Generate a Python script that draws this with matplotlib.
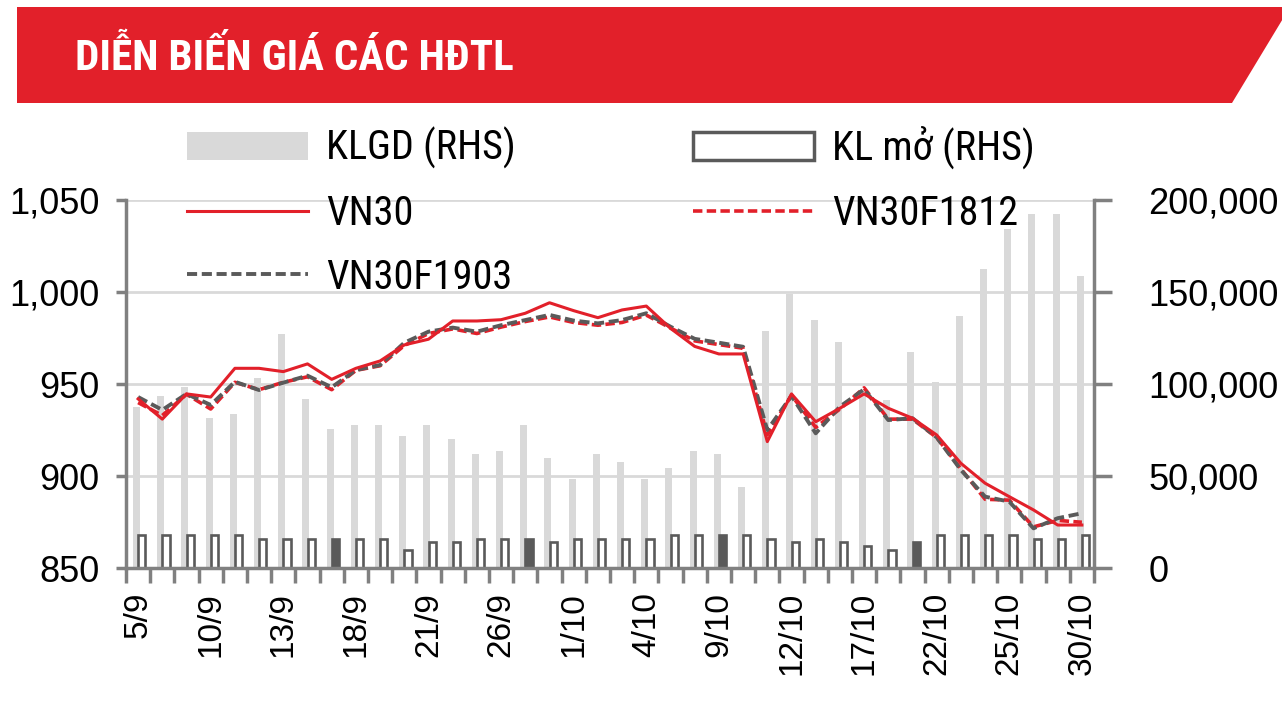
import matplotlib
matplotlib.use('Agg')
import matplotlib.pyplot as plt
from matplotlib import font_manager as fm
from matplotlib.patches import Polygon, Patch
from matplotlib.lines import Line2D
from matplotlib.ticker import FuncFormatter
import numpy as np

# phiên giao dịch 5/9 - 30/10
dates = ['5/9', '6/9', '7/9', '10/9', '11/9', '12/9', '13/9', '14/9', '17/9', '18/9',
         '19/9', '20/9', '21/9', '24/9', '25/9', '26/9', '27/9', '28/9', '1/10', '2/10',
         '3/10', '4/10', '5/10', '8/10', '9/10', '10/10', '11/10', '12/10', '15/10', '16/10',
         '17/10', '18/10', '19/10', '22/10', '23/10', '24/10', '25/10', '26/10', '29/10', '30/10']

vn30 = [942, 931, 944.7, 943, 958.6, 958.6, 956.8, 961, 952.6, 958.6,
        962.6, 971.3, 974.4, 984.3, 984.3, 985, 988.5, 994.2, 989.9, 986.1,
        990.3, 992.4, 980.3, 970.5, 966.4, 966.4, 918.8, 944.7, 929.6, 936.9,
        944.7, 936.9, 931.5, 922.4, 907, 896.2, 888.9, 881.7, 873.5, 873.5]

vn30f1812 = [940, 933, 944.5, 936.5, 951, 947, 951, 954, 947, 957.5,
             960, 971, 977.5, 980, 977.5, 981, 984, 986.5, 983.5, 982,
             983.5, 987.5, 980.5, 973.5, 971.5, 969.5, 922.5, 944, 926.5, 936.5,
             948, 931, 931, 921, 904, 887.5, 887, 872.5, 876, 875]

vn30f1903 = [943, 936, 944.7, 938.7, 951.3, 946.8, 950.8, 954.6, 948.3, 957.7,
             960.4, 972.5, 978.5, 980.7, 978.5, 982, 984.8, 987.6, 984.5, 983,
             984.8, 988.5, 981.2, 974.6, 972.5, 970.3, 925.1, 943.6, 923.3, 937.8,
             947.2, 930.5, 931.5, 921.1, 903.4, 888.9, 886.2, 871.7, 877.2, 879.9]

klgd = [87750, 93500, 98500, 81800, 83800, 103500, 127200, 91800, 75600, 77800,
        77800, 71800, 77800, 70000, 62000, 63900, 77800, 60100, 48300, 61900,
        57900, 48300, 54300, 63900, 61900, 44300, 129000, 148800, 134800, 123000,
        97000, 91400, 117300, 101300, 137000, 162700, 184400, 192400, 192400, 158700]

kl_mo = [18100, 18100, 18100, 18100, 18100, 15900, 15900, 15900, 15900, 15900,
         15900, 9900, 14100, 14100, 15900, 15900, 15900, 14100, 15900, 15900,
         15900, 15900, 18100, 18100, 18100, 18100, 15900, 14100, 15900, 14100,
         12100, 9900, 14100, 18100, 18100, 18100, 18100, 15900, 15900, 18100]

RED = '#E2202A'
DARK = '#5A5A5A'
LIGHT = '#D9D9D9'
AXIS = '#808080'
SANS = ['Liberation Sans', 'DejaVu Sans']

# tìm font hẹp có sẵn
installed = {f.name for f in fm.fontManager.ttflist}
narrow_name = None
for cand in ['Liberation Sans Narrow', 'Roboto Condensed', 'Open Sans Condensed',
             'DejaVu Sans Condensed', 'Noto Sans Condensed']:
    if cand in installed:
        narrow_name = cand
        break
if narrow_name is None:
    NARROW = ['DejaVu Sans']
    STRETCH = 'condensed'
else:
    NARROW = [narrow_name, 'DejaVu Sans']
    STRETCH = 'normal'

W, H = 1282, 720


def fx(px):
    return px / W


def fy(py):
    return 1 - py / H


fig = plt.figure(figsize=(W / 100, H / 100), dpi=100)

# dải tiêu đề đỏ
banner = Polygon([(fx(17), fy(7)), (fx(1290), fy(7)), (fx(1232), fy(103)), (fx(17), fy(103))],
                 closed=True, transform=fig.transFigure, facecolor=RED, edgecolor='none')
fig.patches.append(banner)
fig.text(fx(75), fy(58), 'DIỄN BIẾN GIÁ CÁC HĐTL', color='white', fontsize=31,
         fontweight='bold', family=NARROW, fontstretch=STRETCH, va='center', ha='left')

ax = fig.add_axes([fx(126), fy(568.3), fx(1094) - fx(126), (568.3 - 200) / H])
ax2 = ax.twinx()
ax.set_zorder(ax2.get_zorder() + 1)
ax.patch.set_visible(False)

x = np.arange(len(dates))

# cột khối lượng (trục phải)
ax2.set_axisbelow(True)
ax2.yaxis.grid(True, color=LIGHT, linewidth=2)
ax2.bar(x - 0.066, klgd, width=0.29, color=LIGHT, zorder=2)
faces = ['white'] * len(x)
for i in range(8, len(x), 8):
    faces[i] = DARK
ax2.bar(x + 0.15, kl_mo, width=0.3, facecolor=faces, edgecolor=DARK, linewidth=1.9, zorder=3)

# đường giá (trục trái)
dash = (0, (2.6, 1.2))
ax.plot(x, vn30f1812, color=RED, linewidth=2.6, linestyle=dash, zorder=3)
ax.plot(x, vn30f1903, color=DARK, linewidth=2.8, linestyle=dash, zorder=4)
ax.plot(x, vn30, color=RED, linewidth=2.2, zorder=5)

ax.set_xlim(-0.5, len(x) - 0.5)
ax.set_ylim(850, 1050)
ax2.set_ylim(0, 200000)
ax.set_yticks([850, 900, 950, 1000, 1050])
ax2.set_yticks([0, 50000, 100000, 150000, 200000])
fmt = FuncFormatter(lambda v, p: '{:,.0f}'.format(v))
ax.yaxis.set_major_formatter(fmt)
ax2.yaxis.set_major_formatter(fmt)

ax.set_xticks(x[::3])
ax.set_xticklabels(dates[::3], rotation=90, family=SANS, fontsize=24)
ax.set_xticks(np.arange(-0.5, len(x), 1), minor=True)
ax.tick_params(axis='x', which='major', length=0, pad=17)
ax.tick_params(axis='x', which='minor', length=11, width=2.5, color=AXIS)
ax.tick_params(axis='y', length=7, width=2.5, color=AXIS, pad=12)
ax2.tick_params(axis='y', length=13, width=2.5, color=AXIS, pad=26)
for lab in ax.get_yticklabels() + ax2.get_yticklabels():
    lab.set_family(SANS)
    lab.set_fontsize(26)

for s in ['top', 'right']:
    ax.spines[s].set_visible(False)
for s in ['top', 'left', 'bottom']:
    ax2.spines[s].set_visible(False)
for sp in [ax.spines['left'], ax.spines['bottom'], ax2.spines['right']]:
    sp.set_color(AXIS)
    sp.set_linewidth(2.5)

handles = [
    Patch(facecolor=LIGHT, edgecolor='none'),
    Line2D([], [], color=RED, linewidth=2.2),
    Line2D([], [], color=DARK, linewidth=2.8, linestyle=dash),
    Patch(facecolor='white', edgecolor=DARK, linewidth=2.5),
    Line2D([], [], color=RED, linewidth=2.6, linestyle=dash),
]
labels = ['KLGD (RHS)', 'VN30', 'VN30F1903', 'KL mở (RHS)', 'VN30F1812']
fig.legend(handles, labels, ncol=2, loc='upper left', bbox_to_anchor=(fx(187), fy(126)),
           frameon=False, prop={'family': NARROW, 'size': 29, 'stretch': STRETCH},
           handlelength=3.0, handleheight=0.7, handletextpad=0.45, columnspacing=4.4,
           labelspacing=0.61, borderpad=0, borderaxespad=0)

fig.savefig('out.png', dpi=100)
